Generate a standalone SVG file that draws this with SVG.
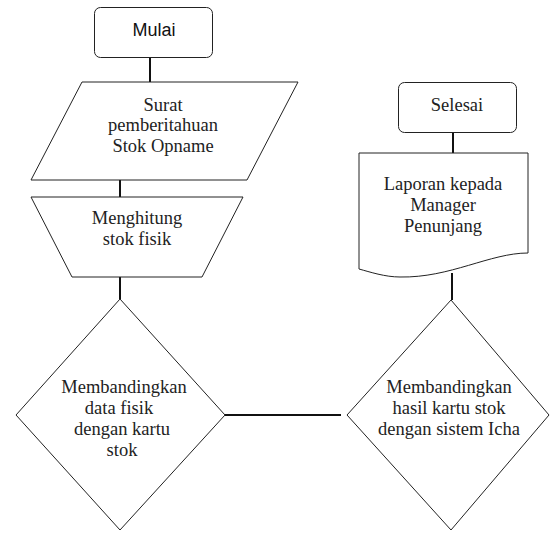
<svg xmlns="http://www.w3.org/2000/svg" width="550" height="533" viewBox="0 0 550 533">
<style>
.s{fill:#fff;stroke:#222;stroke-width:1}
.c{stroke:#111;stroke-width:2;fill:none}
.t{font-family:'Liberation Serif','Times New Roman',serif;font-size:18.5px;fill:#222;text-anchor:middle}
.a{font-family:'Liberation Sans',Arial,sans-serif;font-size:18px;fill:#111;text-anchor:middle}
</style>
<rect width="550" height="533" fill="#fff"/>
<g id="connectors">
<line class="c" x1="150" y1="57" x2="150" y2="82"/>
<line class="c" x1="120" y1="180" x2="120" y2="197"/>
<line class="c" x1="120" y1="277" x2="120" y2="299"/>
<line class="c" x1="225" y1="415" x2="341" y2="415"/>
<line class="c" x1="452" y1="273" x2="452" y2="300"/>
<line class="c" x1="453" y1="132" x2="453" y2="153"/>
</g>
<g id="mulai">
<rect class="s" x="94.5" y="7.5" width="118" height="50" rx="6"/>
<text class="a" x="154" y="36">Mulai</text>
</g>
<g id="surat">
<polygon class="s" points="82,82 298,82 247,180 31,180"/>
<text class="t" x="163" y="111">Surat</text>
<text class="t" x="163" y="131">pemberitahuan</text>
<text class="t" x="163" y="152">Stok Opname</text>
</g>
<g id="menghitung">
<polygon class="s" points="31,197 243,197 202,277 72,277"/>
<text class="t" x="137" y="224">Menghitung</text>
<text class="t" x="137" y="245">stok fisik</text>
</g>
<g id="banding1">
<polygon class="s" points="120,299 225,415 120,530 16,415"/>
<text class="t" x="124" y="393">Membandingkan</text>
<text class="t" x="119" y="414">data fisik</text>
<text class="t" x="122" y="435">dengan kartu</text>
<text class="t" x="122" y="456">stok</text>
</g>
<g id="banding2">
<polygon class="s" points="451,300 549,415 451,530 347,415"/>
<text class="t" x="449" y="393">Membandingkan</text>
<text class="t" x="449" y="414">hasil kartu stok</text>
<text class="t" x="449" y="435">dengan sistem Icha</text>
</g>
<g id="laporan">
<path class="s" d="M359,153 H528 V253 C490,253 450,278 400,277 C385,277 370,272 359,269 Z"/>
<text class="t" x="443" y="190">Laporan kepada</text>
<text class="t" x="443" y="211">Manager</text>
<text class="t" x="443" y="232">Penunjang</text>
</g>
<g id="selesai">
<rect class="s" x="398.5" y="82.5" width="118" height="50" rx="6"/>
<text class="t" x="457" y="111">Selesai</text>
</g>
</svg>
